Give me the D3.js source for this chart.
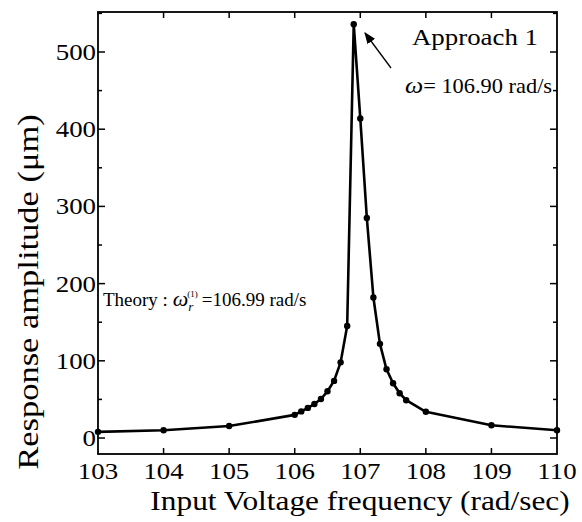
<!DOCTYPE html>
<html>
<head>
<meta charset="utf-8">
<script src="https://cdn.jsdelivr.net/npm/d3@7"></script>
<style>
  body { margin: 0; background: #fff; }
  text { font-family: "Liberation Serif", "Times New Roman", serif; fill: #000; }
</style>
</head>
<body>
<svg id="chart" width="582" height="522"></svg>
<script>
// frequency (rad/s) and response amplitude (um)
var freq = [103, 104, 105, 106, 106.1, 106.2, 106.3, 106.4, 106.5, 106.6, 106.7, 106.8,
            106.9, 107, 107.1, 107.2, 107.3, 107.4, 107.5, 107.6, 107.7, 108, 109, 110];
var amp  = [8, 10, 15.5, 30, 34.5, 39, 44, 50.5, 60.5, 74, 98, 145,
            536, 414, 285, 182, 122, 89, 71, 58, 49, 34, 16.5, 10];
var xTicks = [103, 104, 105, 106, 107, 108, 109, 110];
var yTicks = [0, 100, 200, 300, 400, 500];
var yMinor = [50, 150, 250, 350, 450, 550];

var svg = d3.select('#chart');
var pLeft = 98, pRight = 557, pTop = 12, pBottom = 454;

var x = d3.scaleLinear().domain([103, 110]).range([pLeft, pRight]);
var y = d3.scaleLinear().domain([-20.7, 551.8]).range([pBottom, pTop]);

var data = freq.map(function(f, i) { return {x: f, y: amp[i]}; });

// text in the figure is a little wider than Liberation Serif
function wide(sel, px, py, sx, rot) {
    return sel.attr('transform', 'translate(' + px + ',' + py + ')' +
        (rot ? ' rotate(' + rot + ')' : '') + ' scale(' + (sx || 1.12) + ',1)');
}

// frame
svg.append('rect')
    .attr('x', pLeft).attr('y', pTop)
    .attr('width', pRight - pLeft).attr('height', pBottom - pTop)
    .attr('fill', 'none').attr('stroke', '#000').attr('stroke-width', 1.8);

var g = svg.append('g').attr('stroke', '#000').attr('stroke-width', 1.5);

// ticks point inward on all four sides
xTicks.forEach(function(t) {
    if (t == 103 || t == 110) return;
    g.append('line').attr('x1', x(t)).attr('x2', x(t)).attr('y1', pBottom).attr('y2', pBottom - 6);
    g.append('line').attr('x1', x(t)).attr('x2', x(t)).attr('y1', pTop).attr('y2', pTop + 6);
});
yTicks.forEach(function(t) {
    g.append('line').attr('x1', pLeft).attr('x2', pLeft + 7).attr('y1', y(t)).attr('y2', y(t));
    g.append('line').attr('x1', pRight).attr('x2', pRight - 7).attr('y1', y(t)).attr('y2', y(t));
});
yMinor.forEach(function(t) {
    if (y(t) < pTop) return;
    g.append('line').attr('x1', pLeft).attr('x2', pLeft + 4).attr('y1', y(t)).attr('y2', y(t));
    g.append('line').attr('x1', pRight).attr('x2', pRight - 4).attr('y1', y(t)).attr('y2', y(t));
});

// tick labels
svg.append('g').selectAll('text').data(xTicks).enter().append('text')
    .each(function(d) { wide(d3.select(this), x(d), 479); })
    .attr('text-anchor', 'middle')
    .style('font-size', '24px')
    .text(function(d) { return d; });

svg.append('g').selectAll('text').data(yTicks).enter().append('text')
    .each(function(d) { wide(d3.select(this), 96, y(d) + 8); })
    .attr('text-anchor', 'end')
    .style('font-size', '24px')
    .text(function(d) { return d; });

// axis titles
wide(svg.append('text'), 360, 510)
    .attr('text-anchor', 'middle')
    .style('font-size', '28px')
    .text('Input Voltage frequency (rad/sec)');

wide(svg.append('text'), 38, 292, 1.15, -90)
    .attr('text-anchor', 'middle')
    .style('font-size', '30px')
    .text('Response amplitude (\u03bcm)');

// curve
var line = d3.line()
    .x(function(d) { return x(d.x); })
    .y(function(d) { return y(d.y); });

svg.append('path')
    .datum(data)
    .attr('d', line)
    .attr('fill', 'none')
    .attr('stroke', '#000')
    .attr('stroke-width', 2.6)
    .attr('stroke-linejoin', 'round');

svg.append('g').selectAll('circle').data(data).enter().append('circle')
    .attr('cx', function(d) { return x(d.x); })
    .attr('cy', function(d) { return y(d.y); })
    .attr('r', 3.2)
    .attr('fill', '#000');

// annotations
svg.append('defs').append('marker')
    .attr('id', 'head')
    .attr('viewBox', '0 0 10 10')
    .attr('refX', 9).attr('refY', 5)
    .attr('markerWidth', 9).attr('markerHeight', 9)
    .attr('orient', 'auto')
    .append('path').attr('d', 'M 0 1 L 10 5 L 0 9 z').attr('fill', '#000');

svg.append('line')
    .attr('x1', 391).attr('y1', 68)
    .attr('x2', 365).attr('y2', 33)
    .attr('stroke', '#000').attr('stroke-width', 1.3)
    .attr('marker-end', 'url(#head)');

wide(svg.append('text'), 475, 45)
    .attr('text-anchor', 'middle')
    .style('font-size', '24px')
    .text('Approach 1');

var w = wide(svg.append('text'), 405, 93).style('font-size', '20px');
w.append('tspan').style('font-style', 'italic').style('font-size', '23px').text('\u03c9');
w.append('tspan').text('= 106.90 rad/s');

var th = wide(svg.append('text'), 103, 306, 1.0).style('font-size', '19px');
th.append('tspan').text('Theory : ');
th.append('tspan').style('font-style', 'italic').style('font-size', '22px').text('\u03c9');
th.append('tspan').attr('dy', 5).style('font-style', 'italic').style('font-size', '13px').text('r');
th.append('tspan').attr('dx', -6).attr('dy', -14).style('font-size', '9px').text('(1)');
th.append('tspan').attr('dx', 4).attr('dy', 9).text('=106.99 rad/s');
</script>
</body>
</html>
